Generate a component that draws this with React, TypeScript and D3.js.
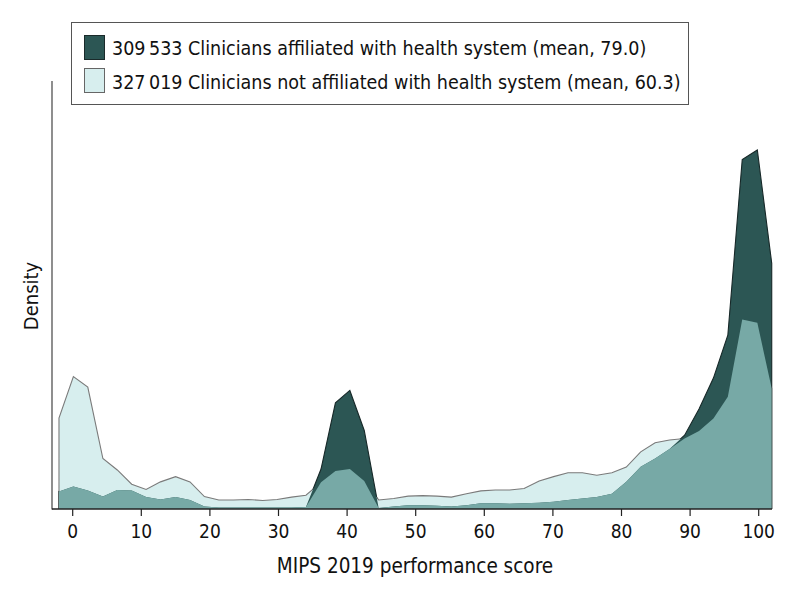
import React from "react";
import * as d3 from "d3";

// MIPS score grid (x positions of density estimates)
const X_VALUES = [
  -2.0, 0.1, 2.2, 4.4, 6.5, 8.6, 10.7, 12.8, 15.0, 17.1,
  19.2, 21.3, 23.4, 25.6, 27.7, 29.8, 31.9, 34.0, 36.2, 38.3,
  40.4, 42.5, 44.6, 46.8, 48.9, 51.0, 53.1, 55.2, 57.4, 59.5,
  61.6, 63.7, 65.8, 68.0, 70.1, 72.2, 74.3, 76.4, 78.6, 80.7,
  82.8, 84.9, 87.0, 89.2, 91.3, 93.4, 95.5, 97.6, 99.8, 101.9,
];

// Clinicians affiliated with health system
const AFFILIATED = [
  0.0037, 0.0047, 0.0039, 0.0026, 0.004, 0.0039, 0.0025, 0.002, 0.0025, 0.0019,
  0.0005, 0.0003, 0.0003, 0.0003, 0.0003, 0.0003, 0.0003, 0.0004, 0.0084, 0.0223,
  0.0249, 0.0165, 0.0002, 0.0005, 0.0008, 0.0008, 0.0007, 0.0005, 0.0008, 0.0012,
  0.0012, 0.0011, 0.0012, 0.0013, 0.0015, 0.0019, 0.0022, 0.0025, 0.0032, 0.0057,
  0.0089, 0.0106, 0.0126, 0.0155, 0.021, 0.0275, 0.0365, 0.0734, 0.0754, 0.0516,
];

// Clinicians not affiliated with health system
const NOT_AFFILIATED = [
  0.0191, 0.0278, 0.0256, 0.0106, 0.0082, 0.0052, 0.0041, 0.0057, 0.0068, 0.0057,
  0.0026, 0.0019, 0.0019, 0.002, 0.0018, 0.002, 0.0025, 0.0029, 0.0056, 0.008,
  0.0084, 0.0059, 0.0019, 0.0022, 0.0027, 0.0028, 0.0027, 0.0025, 0.0032, 0.0038,
  0.004, 0.004, 0.0043, 0.0059, 0.0068, 0.0076, 0.0076, 0.0071, 0.0076, 0.0088,
  0.012, 0.0139, 0.0145, 0.0148, 0.0164, 0.019, 0.0236, 0.0398, 0.0391, 0.0253,
];

const X_TICKS = [0, 10, 20, 30, 40, 50, 60, 70, 80, 90, 100];
const LEGEND_LABELS = [
  "309\u2009533 Clinicians affiliated with health system (mean, 79.0)",
  "327\u2009019 Clinicians not affiliated with health system (mean, 60.3)",
];
const X_LABEL = "MIPS 2019 performance score";
const Y_LABEL = "Density";

const DARK = "#2c5654";
const LIGHT = "#d7eeee";
const MID = "#77a9a6";
const FONT = "'Liberation Sans Narrow', 'DejaVu Sans Condensed', 'Liberation Sans', sans-serif";

export default function App() {
  const W = 794;
  const H = 595;
  const x = d3.scaleLinear().domain([0, 100]).range([72.7, 758.7]);
  const y = d3.scaleLinear().domain([0, 0.0899]).range([509, 81]);
  const axisLeft = 52;
  const axisRight = 772;
  const base = y(0);

  const aff = X_VALUES.map((xv, i) => ({ x: xv, v: AFFILIATED[i] }));
  const non = X_VALUES.map((xv, i) => ({ x: xv, v: NOT_AFFILIATED[i] }));
  const both = X_VALUES.map((xv, i) => ({ x: xv, v: Math.min(AFFILIATED[i], NOT_AFFILIATED[i]) }));

  const area = d3
    .area<{ x: number; v: number }>()
    .x((d) => x(d.x))
    .y0(base)
    .y1((d) => y(d.v));

  const outline = (pts: { x: number; v: number }[]) => {
    const arr = [{ x: pts[0].x, v: 0 }, ...pts, { x: pts[pts.length - 1].x, v: 0 }];
    return d3
      .line<{ x: number; v: number }>()
      .x((d) => x(d.x))
      .y((d) => y(d.v))(arr) as string;
  };

  const affArea = area(aff) as string;
  const nonArea = area(non) as string;
  const bothArea = area(both) as string;

  return (
    <svg
      width={W}
      height={H}
      style={{ position: "absolute", left: 0, top: 0, background: "#fff" }}
      fontFamily={FONT}
    >
      <defs>
        <mask id="hideInDark" maskUnits="userSpaceOnUse" x={0} y={0} width={W} height={H}>
          <rect x={0} y={0} width={W} height={H} fill="#fff" />
          <path d={affArea} fill="#000" />
        </mask>
        <mask id="hideInLight" maskUnits="userSpaceOnUse" x={0} y={0} width={W} height={H}>
          <rect x={0} y={0} width={W} height={H} fill="#fff" />
          <path d={nonArea} fill="#000" />
        </mask>
      </defs>

      {/* areas */}
      <path d={nonArea} fill={LIGHT} />
      <path d={affArea} fill={DARK} />
      <path d={bothArea} fill={MID} />
      <path d={outline(non)} fill="none" stroke="#7a7a7a" strokeWidth={1.1} mask="url(#hideInDark)" />
      <path d={outline(aff)} fill="none" stroke="#172828" strokeWidth={1.1} mask="url(#hideInLight)" />

      {/* axes */}
      <line x1={axisLeft} x2={axisLeft} y1={81} y2={base + 0.5} stroke="#444" strokeWidth={1.2} />
      <line x1={axisLeft} x2={axisRight} y1={base} y2={base} stroke="#222" strokeWidth={1.4} />
      {X_TICKS.map((t) => (
        <g key={t}>
          <line x1={x(t)} x2={x(t)} y1={base} y2={base + 7} stroke="#222" strokeWidth={1.2} />
          <text x={x(t)} y={538} textAnchor="middle" fontSize={19} fill="#111">
            {t}
          </text>
        </g>
      ))}
      <text x={415} y={573} textAnchor="middle" fontSize={20.5} fill="#111">
        {X_LABEL}
      </text>
      <text
        transform={`translate(38,296) rotate(-90)`}
        textAnchor="middle"
        fontSize={20}
        fill="#111"
      >
        {Y_LABEL}
      </text>

      {/* legend */}
      <rect x={71.5} y={22.5} width={617} height={82} fill="#fff" stroke="#555" strokeWidth={1} />
      <rect x={84.5} y={35.5} width={20} height={24} fill={DARK} stroke="#1a2a2a" strokeWidth={1} />
      <rect x={84.5} y={68.5} width={20} height={24} fill={LIGHT} stroke="#666" strokeWidth={1} />
      <text x={112} y={55} fontSize={19.5} fill="#111">
        {LEGEND_LABELS[0]}
      </text>
      <text x={112} y={89} fontSize={19.5} fill="#111">
        {LEGEND_LABELS[1]}
      </text>
    </svg>
  );
}
